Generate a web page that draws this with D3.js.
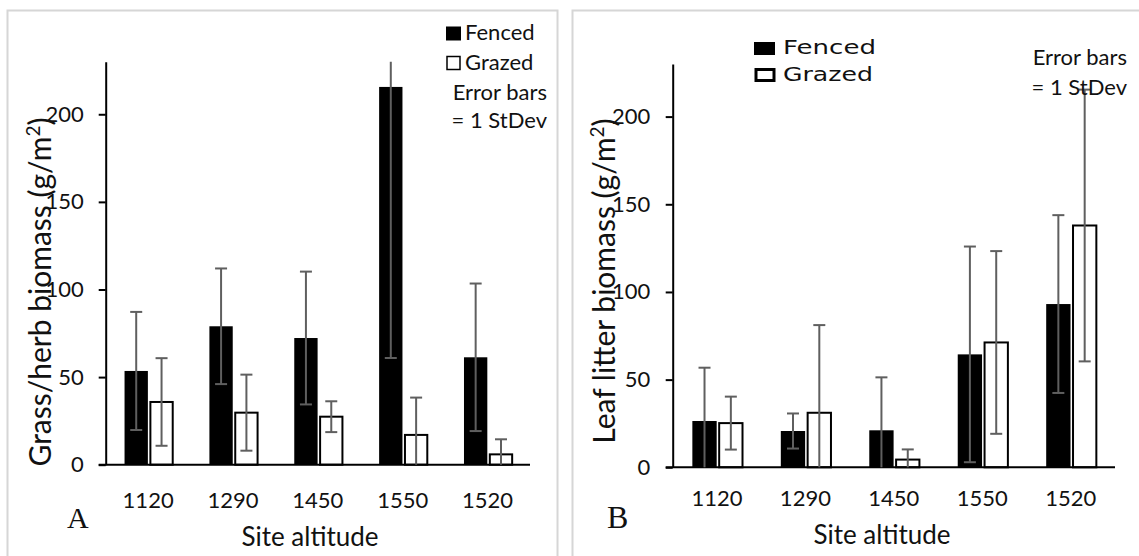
<!DOCTYPE html>
<html>
<head>
<meta charset="utf-8">
<script src="https://cdn.jsdelivr.net/npm/d3@7/dist/d3.min.js"></script>
<style>
  html, body { margin: 0; padding: 0; background: #fff; }
  svg { display: block; }
  text { font-family: Lato, "Open Sans", sans-serif; fill: #111; }
</style>
</head>
<body>
<svg id="chart" width="1139" height="556"></svg>
<script>
// Site altitudes (m) shown along the x axis
const sites = ["1120", "1290", "1450", "1550", "1520"];

// Panel A: grass/herb biomass (g/m2), mean and 1 SD
const grassFenced   = [53.5, 79.0, 72.3, 215.6, 61.3];
const grassFencedSD = [33.7, 33.0, 37.9, 154.7, 42.1];
const grassGrazed   = [35.8, 29.7, 27.4, 17.0, 5.9];
const grassGrazedSD = [25.0, 21.7, 8.8, 21.3, 8.6];

// Panel B: leaf litter biomass (g/m2), mean and 1 SD
const litterFenced   = [26.4, 20.7, 21.1, 64.4, 93.1];
const litterFencedSD = [30.4, 10.0, 30.2, 61.5, 50.7];
const litterGrazed   = [25.2, 31.1, 4.4, 71.2, 137.9];
const litterGrazedSD = [15.1, 50.0, 5.8, 52.1, 77.5];

// Value axis
const yTicks = [0, 50, 100, 150, 200];
const yMax = 230;

const svg = d3.select("#chart");

// light frames around each panel
svg.append("rect").attr("x", 7.5).attr("y", 10.5).attr("width", 550).attr("height", 560)
  .attr("fill", "none").attr("stroke", "#d6d6d6").attr("stroke-width", 2);
svg.append("rect").attr("x", 572.5).attr("y", 10.5).attr("width", 580).attr("height", 560)
  .attr("fill", "none").attr("stroke", "#d6d6d6").attr("stroke-width", 2);

function drawPanel(p) {
  const w = p.right - p.left, h = p.bottom - p.top;
  const g = svg.append("g").attr("transform", `translate(${p.left},${p.top})`);

  const x = d3.scaleBand().domain(sites).range([0, w]);
  const y = d3.scaleLinear().domain([0, yMax]).range([h, 0]);

  // legend
  p.legend(g);

  // y axis
  const ya = g.append("g").call(
    d3.axisLeft(y).tickValues(yTicks).tickSize(7).tickSizeOuter(0).tickPadding(p.yPad)
  );
  ya.select(".domain").attr("stroke", "#000").attr("stroke-width", 2);
  ya.selectAll(".tick line").attr("stroke", "#000").attr("stroke-width", 2);
  ya.selectAll(".tick text").style("font-family", "Lato, sans-serif")
    .style("font-size", "22px").attr("fill", "#111");

  // x axis category labels
  const xa = g.append("g").attr("transform", `translate(0,${h})`).call(
    d3.axisBottom(x).tickSize(0).tickPadding(p.xPad)
  );
  xa.select(".domain").remove();
  xa.selectAll(".tick text").style("font-family", "Lato, sans-serif")
    .style("font-size", "22px").attr("fill", "#111");

  // bars
  const bw = x.bandwidth() * 0.275;
  const gap = 1.5;
  const cx = s => x(s) + x.bandwidth() / 2 + 0.5;
  const fx = s => cx(s) - gap / 2 - bw;
  const gx = s => cx(s) + gap / 2;

  g.selectAll(".fenced").data(sites).join("rect")
    .attr("x", d => fx(d)).attr("width", bw)
    .attr("y", (d, i) => y(p.fenced[i])).attr("height", (d, i) => h - y(p.fenced[i]))
    .attr("fill", "#000");

  g.selectAll(".grazed").data(sites).join("rect")
    .attr("x", d => gx(d) + 1).attr("width", bw - 1)
    .attr("y", (d, i) => y(p.grazed[i])).attr("height", (d, i) => h - y(p.grazed[i]))
    .attr("fill", "#fff").attr("stroke", "#000").attr("stroke-width", 2);

  // baseline
  g.append("line").attr("x1", -7).attr("x2", w).attr("y1", h).attr("y2", h)
    .attr("stroke", "#000").attr("stroke-width", 2);

  // error bars (±1 SD, clipped to the axis range)
  function errorBars(vals, sds, xc) {
    sites.forEach((s, i) => {
      const v = vals[i], sd = sds[i];
      const lo = Math.max(0, v - sd), hi = Math.min(yMax, v + sd);
      const xm = xc(s);
      g.append("line").attr("x1", xm).attr("x2", xm).attr("y1", y(lo)).attr("y2", y(hi))
        .attr("stroke", "#5f5f5f").attr("stroke-width", 2);
      if (v + sd <= yMax)
        g.append("line").attr("x1", xm - 6).attr("x2", xm + 6).attr("y1", y(hi)).attr("y2", y(hi))
          .attr("stroke", "#5f5f5f").attr("stroke-width", 2);
      if (v - sd >= 0)
        g.append("line").attr("x1", xm - 6).attr("x2", xm + 6).attr("y1", y(lo)).attr("y2", y(lo))
          .attr("stroke", "#5f5f5f").attr("stroke-width", 2);
    });
  }
  errorBars(p.fenced, p.fencedSD, s => fx(s) + bw / 2);
  errorBars(p.grazed, p.grazedSD, s => gx(s) + 1 + (bw - 1) / 2);

  // axis titles
  const yt = svg.append("text")
    .attr("transform", `translate(${p.yTitleX},${p.yTitleY}) rotate(-90)`)
    .attr("text-anchor", "middle").style("font-size", "30px");
  yt.append("tspan").text(p.yTitle + " (g/m");
  yt.append("tspan").attr("dy", -11).style("font-size", "19px").text("2");
  yt.append("tspan").attr("dy", 11).text(")");

  svg.append("text").attr("x", p.xTitleX).attr("y", p.xTitleY)
    .attr("text-anchor", "middle").style("font-size", "26px").text("Site altitude");

  svg.append("text").attr("x", p.letterX).attr("y", p.letterY)
    .style("font-family", "'Liberation Serif', 'Times New Roman', serif")
    .style("font-size", p.letterSize + "px").attr("fill", "#000").text(p.letter);
}

// Panel A
drawPanel({
  left: 105.7, right: 530, top: 61.7, bottom: 464.7,
  yPad: 15, xPad: 28,
  fenced: grassFenced, fencedSD: grassFencedSD,
  grazed: grassGrazed, grazedSD: grassGrazedSD,
  yTitle: "Grass/herb biomass", yTitleX: 51, yTitleY: 292,
  xTitleX: 310, xTitleY: 546,
  letter: "A", letterX: 67, letterY: 528, letterSize: 30,
  legend: function (g) {
    const L = svg.append("g");
    L.append("rect").attr("x", 446).attr("y", 26.5).attr("width", 15).attr("height", 14).attr("fill", "#000");
    L.append("rect").attr("x", 447).attr("y", 56.5).attr("width", 13).attr("height", 13)
      .attr("fill", "#fff").attr("stroke", "#000").attr("stroke-width", 1.5);
    L.append("text").attr("x", 465).attr("y", 39.5).style("font-size", "22px").text("Fenced");
    L.append("text").attr("x", 465).attr("y", 69.5).style("font-size", "22px").text("Grazed");
    L.append("text").attr("x", 547).attr("y", 100).attr("text-anchor", "end").style("font-size", "22px").text("Error bars");
    L.append("text").attr("x", 547).attr("y", 128).attr("text-anchor", "end").style("font-size", "22px").text("= 1 StDev");
  }
});

// Panel B
drawPanel({
  left: 672.7, right: 1115, top: 64, bottom: 467.3,
  yPad: 15.5, xPad: 23,
  fenced: litterFenced, fencedSD: litterFencedSD,
  grazed: litterGrazed, grazedSD: litterGrazedSD,
  yTitle: "Leaf litter biomass", yTitleX: 615, yTitleY: 281,
  xTitleX: 882, xTitleY: 544,
  letter: "B", letterX: 607, letterY: 528, letterSize: 32,
  legend: function (g) {
    const L = svg.append("g");
    L.append("rect").attr("x", 754).attr("y", 42).attr("width", 21).attr("height", 13).attr("fill", "#000");
    L.append("rect").attr("x", 756).attr("y", 69.5).attr("width", 18).attr("height", 11)
      .attr("fill", "#fff").attr("stroke", "#000").attr("stroke-width", 3);
    L.append("text").attr("x", 783).attr("y", 54).attr("textLength", 93).attr("lengthAdjust", "spacingAndGlyphs")
      .style("font-family", "'DejaVu Sans', sans-serif").style("font-size", "19px").attr("fill", "#26406e").text("Fenced");
    L.append("text").attr("x", 783).attr("y", 80.5).attr("textLength", 90).attr("lengthAdjust", "spacingAndGlyphs")
      .style("font-family", "'DejaVu Sans', sans-serif").style("font-size", "19px").attr("fill", "#26406e").text("Grazed");
    L.append("text").attr("x", 1127).attr("y", 64.5).attr("text-anchor", "end").style("font-size", "22px").text("Error bars");
    L.append("text").attr("x", 1127).attr("y", 94.5).attr("text-anchor", "end").style("font-size", "22px").text("= 1 StDev");
  }
});
</script>
</body>
</html>
